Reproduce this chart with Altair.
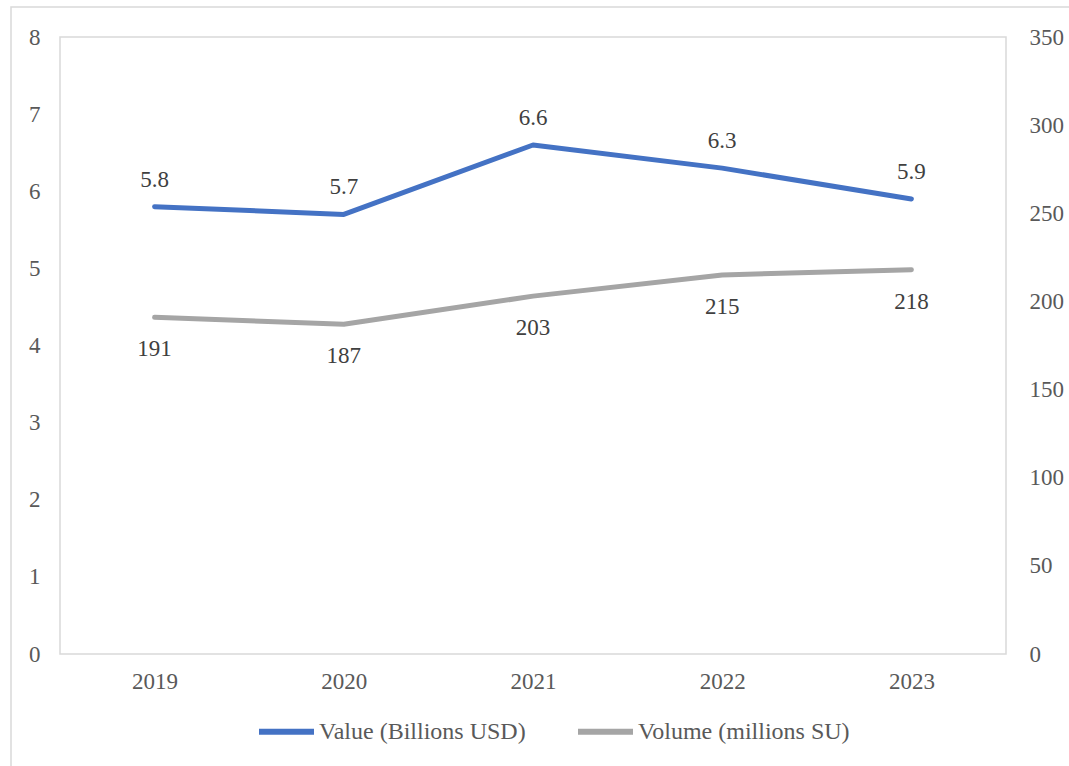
import altair as alt
import pandas as pd

years = ["2019", "2020", "2021", "2022", "2023"]
value_bn = [5.8, 5.7, 6.6, 6.3, 5.9]
volume_mn = [191, 187, 203, 215, 218]

s1 = "Value (Billions USD)"
s2 = "Volume (millions SU)"

df1 = pd.DataFrame({"year": years, "v": value_bn, "series": s1})
df2 = pd.DataFrame({"year": years, "v": volume_mn, "series": s2})

FONT = "Liberation Serif"
FS = 23
color_scale = alt.Scale(domain=[s1, s2], range=["#4472C4", "#A5A5A5"])
xenc = alt.X("year:N", scale=alt.Scale(type="point", padding=0.5),
             axis=alt.Axis(title=None, labelAngle=0, domain=False, ticks=False,
                           labelPadding=16, labelFontSize=FS, labelColor="#595959",
                           labelFont=FONT))

legend = alt.Legend(title=None, orient="none", direction="horizontal",
                    legendX=196, legendY=664, symbolType="stroke",
                    symbolSize=3025, symbolStrokeWidth=6, labelFont=FONT,
                    labelFontSize=24, labelColor="#595959", labelOffset=2,
                    labelLimit=0, columnPadding=40, symbolOffset=0)

border = alt.Chart(df1.head(1)).mark_rect(fill=None, stroke="#d9d9d9", strokeWidth=1.5).encode(
    x=alt.value(-49), x2=alt.value(1200), y=alt.value(-30), y2=alt.value(900))

y1 = alt.Y("v:Q", scale=alt.Scale(domain=[0, 8], nice=False),
           axis=alt.Axis(title=None, orient="left", domain=False, ticks=False, grid=False,
                         values=list(range(0, 9)), labelPadding=20, labelFontSize=FS,
                         labelColor="#595959", labelFont=FONT))
y2 = alt.Y("v:Q", scale=alt.Scale(domain=[0, 350], nice=False),
           axis=alt.Axis(title=None, orient="right", domain=False, ticks=False, grid=False,
                         values=list(range(0, 351, 50)), labelPadding=23, labelFontSize=FS,
                         labelColor="#595959", labelFont=FONT))

line1 = alt.Chart(df1).mark_line(strokeWidth=5, strokeCap="round", strokeJoin="round").encode(
    x=xenc, y=y1, color=alt.Color("series:N", scale=color_scale, legend=legend))
text1 = alt.Chart(df1).mark_text(dy=-27, fontSize=FS, font=FONT, color="#404040").encode(
    x=xenc, y=y1, text=alt.Text("v:Q", format=".1f"))
left = alt.layer(line1, text1)

line2 = alt.Chart(df2).mark_line(strokeWidth=5, strokeCap="round", strokeJoin="round").encode(
    x=xenc, y=y2, color=alt.Color("series:N", scale=color_scale, legend=legend))
text2 = alt.Chart(df2).mark_text(dy=32, fontSize=FS, font=FONT, color="#404040").encode(
    x=xenc, y=y2, text=alt.Text("v:Q", format=".0f"))
right = alt.layer(line2, text2)

chart = alt.layer(border, left, right).resolve_scale(y="independent").properties(
    width=946, height=617,
    autosize=alt.AutoSizeParams(type="none"),
    padding={"left": 60, "top": 37, "right": 63, "bottom": 112},
    background="white",
).configure_view(stroke="#d9d9d9", strokeWidth=1.5)

chart.save("out.html", embed_options={"renderer": "svg", "actions": False})
